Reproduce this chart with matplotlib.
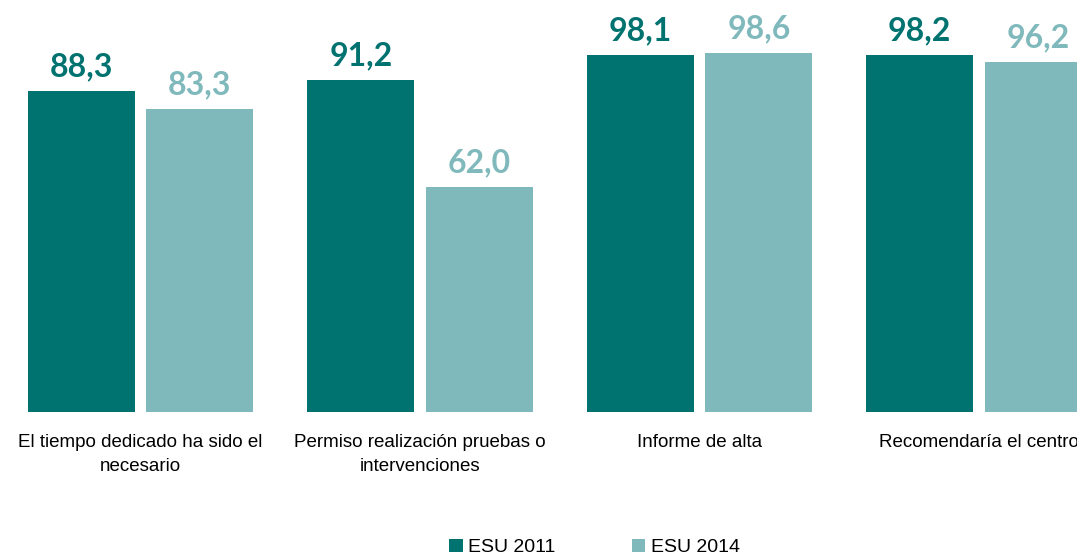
import matplotlib.pyplot as plt
import numpy as np

categories = ['El tiempo dedicado ha sido el\nnecesario',
              'Permiso realización pruebas o\nintervenciones',
              'Informe de alta',
              'Recomendaría el centro']
esu_2011 = [88.3, 91.2, 98.1, 98.2]
esu_2014 = [83.3, 62.0, 98.6, 96.2]
series_names = ['ESU 2011', 'ESU 2014']

c_dark = '#00726F'
c_light = '#80B9BC'

fig = plt.figure(figsize=(10.77, 5.57), dpi=100)
ax = fig.add_axes([0, 0.2603, 1, 0.7397])

x = np.arange(len(categories))
w = 0.383
off = 0.212
b1 = ax.bar(x - off, esu_2011, w, color=c_dark, label=series_names[0])
b2 = ax.bar(x + off, esu_2014, w, color=c_light, label=series_names[1])

for bars, col in ((b1, c_dark), (b2, c_light)):
    for r in bars:
        v = r.get_height()
        ax.annotate(('%.1f' % v).replace('.', ','),
                    (r.get_x() + r.get_width() / 2, v),
                    xytext=(0, 7), textcoords='offset points',
                    ha='center', va='bottom', color=col,
                    fontsize=23, fontweight='bold', family='Lato')

ax.set_xlim(-0.5027, 3.3506)
ax.set_ylim(0, 113.3)
ax.set_xticks(x)
ax.set_xticklabels(categories, fontsize=13.5, family='Liberation Sans',
                   linespacing=1.55)
ax.tick_params(axis='x', length=0, pad=16)
ax.set_yticks([])
for s in ax.spines.values():
    s.set_visible(False)

fig.legend(handles=[b1, b2], labels=series_names, loc='lower center',
           bbox_to_anchor=(0.552, -0.03), ncol=2, frameon=False,
           prop={'family': 'Liberation Sans', 'size': 14},
           handlelength=0.7, handleheight=0.7, handletextpad=0.3,
           columnspacing=3.9)

fig.savefig('out.png', dpi=100)
